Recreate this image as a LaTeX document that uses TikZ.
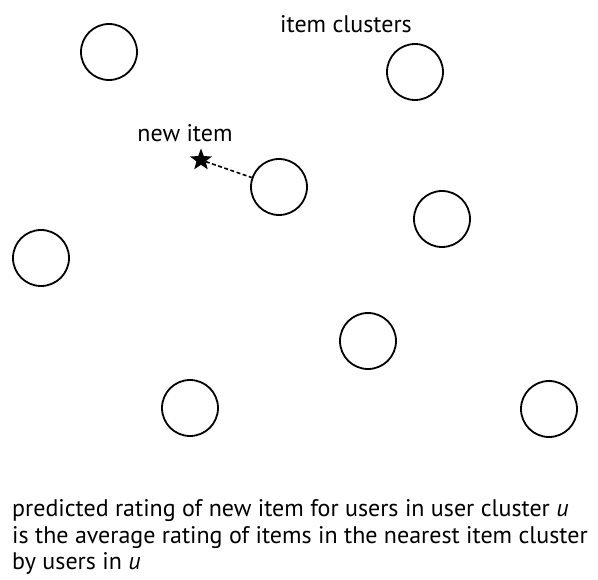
\documentclass[tikz,border=0pt]{standalone}
\usepackage{fontspec}
\setmainfont{PT Sans}
\usetikzlibrary{shapes.geometric}
\begin{document}
\begin{tikzpicture}[x=1pt,y=-1pt,
  cluster/.style={circle,draw,line width=1.8pt,minimum size=56pt,inner sep=0pt},
  lbl/.style={font=\fontsize{24}{28}\selectfont,inner sep=0pt},
  newstar/.style={star,star points=5,star point ratio=2.4,fill=black,minimum size=23pt,inner sep=0pt}]
\useasboundingbox (0,0) rectangle (598,580);
\node[cluster] (c1) at (109,52) {};
\node[cluster] (c2) at (415,72) {};
\node[cluster] (c3) at (279,187) {};
\node[cluster] (c4) at (442,219) {};
\node[cluster] (c5) at (41,258) {};
\node[cluster] (c6) at (368,341) {};
\node[cluster] (c7) at (190,408) {};
\node[cluster] (c8) at (549,409) {};
\node[newstar] (s) at (201,160) {};
\draw[line width=1.6pt,dash pattern=on 4pt off 2.5pt] (s) -- (c3);
\node[lbl] (t1) at (346,24) {item clusters};
\node[lbl] (t2) at (185,133) {new item};
\node[lbl,anchor=west,align=left,font=\fontsize{24}{26.5}\selectfont] (t3) at (12,537) {predicted rating of new item for users in user cluster \textit{u}\\is the average rating of items in the nearest item cluster\\by users in \textit{u}};
\end{tikzpicture}
\end{document}
